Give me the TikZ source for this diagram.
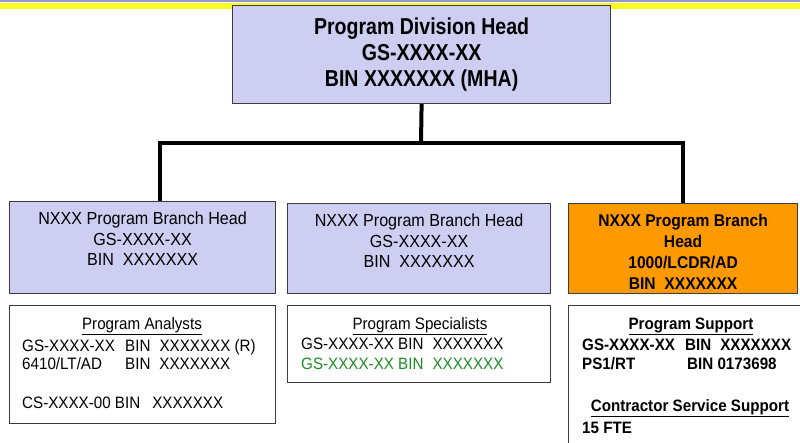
\documentclass[tikz,border=0pt]{standalone}
\usepackage{fontspec}
\setmainfont{Liberation Sans}
\newfontfamily\narrowfont[FakeStretch=0.92]{Liberation Sans}
\newfontfamily\divfont[FakeStretch=0.85]{Liberation Sans}
\usetikzlibrary{positioning}
\definecolor{lavender}{RGB}{206,206,242}
\definecolor{branchorange}{RGB}{255,153,0}
\definecolor{boxgray}{RGB}{60,60,60}
\definecolor{bandyellow}{RGB}{250,250,30}
\definecolor{bandpurple}{RGB}{150,150,205}
\definecolor{staffgreen}{RGB}{30,140,40}

\begin{document}
\begin{tikzpicture}[x=1pt,y=-1pt,
	orgbox/.style={draw=boxgray,line width=1.2pt,anchor=north west,inner sep=0pt},
	txt/.style={inner sep=0pt,font=\narrowfont\fontsize{16.5}{19.5}\selectfont},
	boldtxt/.style={txt,font=\narrowfont\bfseries\fontsize{16.5}{19.5}\selectfont},
	brtxt/.style={inner sep=0pt,align=center,font=\narrowfont\fontsize{17.5}{20.5}\selectfont},
	conn/.style={line width=4pt}]
				\clip (0,0) rectangle (800,442);
				\fill[white] (0,0) rectangle (800,442);
				\fill[bandpurple] (0,0) rectangle (800,1.5);
				\fill[bandyellow] (0,3) rectangle (800,9);
				\node[orgbox,fill=lavender,minimum width=378,minimum height=98] (div) at (232,5) {};
				\node[orgbox,fill=lavender,minimum width=266,minimum height=92] (brA) at (9,201) {};
				\node[orgbox,fill=lavender,minimum width=263,minimum height=90] (brB) at (287,203) {};
				\node[orgbox,fill=branchorange,minimum width=229,minimum height=90] (brC) at (568,203) {};
				\node[orgbox,minimum width=266,minimum height=118] (staffA) at (9,305) {};
				\node[orgbox,minimum width=263,minimum height=77] (staffB) at (287,305) {};
				\node[orgbox,minimum width=240,minimum height=150] (staffC) at (568,305) {};
				\coordinate (split) at (421,143);
				\coordinate (tapA) at (160,201);
				\draw[conn] (div.south) -- (split);
				\draw[conn] (tapA) |- (split) -| (brC.north);
				\node[inner sep=0pt,align=center,font=\divfont\bfseries\fontsize{23}{26}\selectfont] (divtxt) at (div.center) {Program Division Head\\GS-XXXX-XX\\BIN XXXXXXX (MHA)};
				\node[brtxt,below=11pt of brA.north] (brAtxt) {NXXX Program Branch Head\\GS-XXXX-XX\\BIN\ \ XXXXXXX};
				\node[brtxt,below=11pt of brB.north] (brBtxt) {NXXX Program Branch Head\\GS-XXXX-XX\\BIN\ \ XXXXXXX};
				\node[brtxt,font=\narrowfont\bfseries\fontsize{17}{21}\selectfont,below=11pt of brC.north] (brCtxt) {NXXX Program Branch\\Head\\1000/LCDR/AD\\BIN\ \ XXXXXXX};
				\node[txt,anchor=base] (hdA) at (142,329) {\underline{Program Analysts}};
				\node[txt,anchor=base west] (lnA1) at (22,351) {\makebox[103pt][l]{GS-XXXX-XX}BIN\hspace{9pt}XXXXXXX (R)};
				\node[txt,anchor=base west] (lnA2) at (22,369) {\makebox[103pt][l]{6410/LT/AD}BIN\hspace{9pt}XXXXXXX};
				\node[txt,anchor=base west] (lnA3) at (22,408) {CS-XXXX-00 BIN\hspace{12pt}XXXXXXX};
				\node[txt,anchor=base] (hdB) at (420,329) {\underline{Program Specialists}};
				\node[txt,anchor=base west] (lnB1) at (301,349) {GS-XXXX-XX BIN\hspace{9pt}XXXXXXX};
				\node[txt,anchor=base west,text=staffgreen] (lnB2) at (301,369) {GS-XXXX-XX BIN\hspace{9pt}XXXXXXX};
				\node[boldtxt,anchor=base] (hdC) at (691,329) {\underline{Program Support}};
				\node[boldtxt,anchor=base west] (lnC1) at (582,350) {\makebox[103pt][l]{GS-XXXX-XX}BIN\hspace{9pt}XXXXXXX};
				\node[boldtxt,anchor=base west] (lnC2) at (582,369) {\makebox[105pt][l]{PS1/RT}BIN 0173698};
				\node[boldtxt,anchor=base] (hdC2) at (690,411) {\underline{Contractor Service Support}};
				\node[boldtxt,anchor=base west] (lnC3) at (582,433) {15 FTE};
			\end{tikzpicture}
\end{document}
